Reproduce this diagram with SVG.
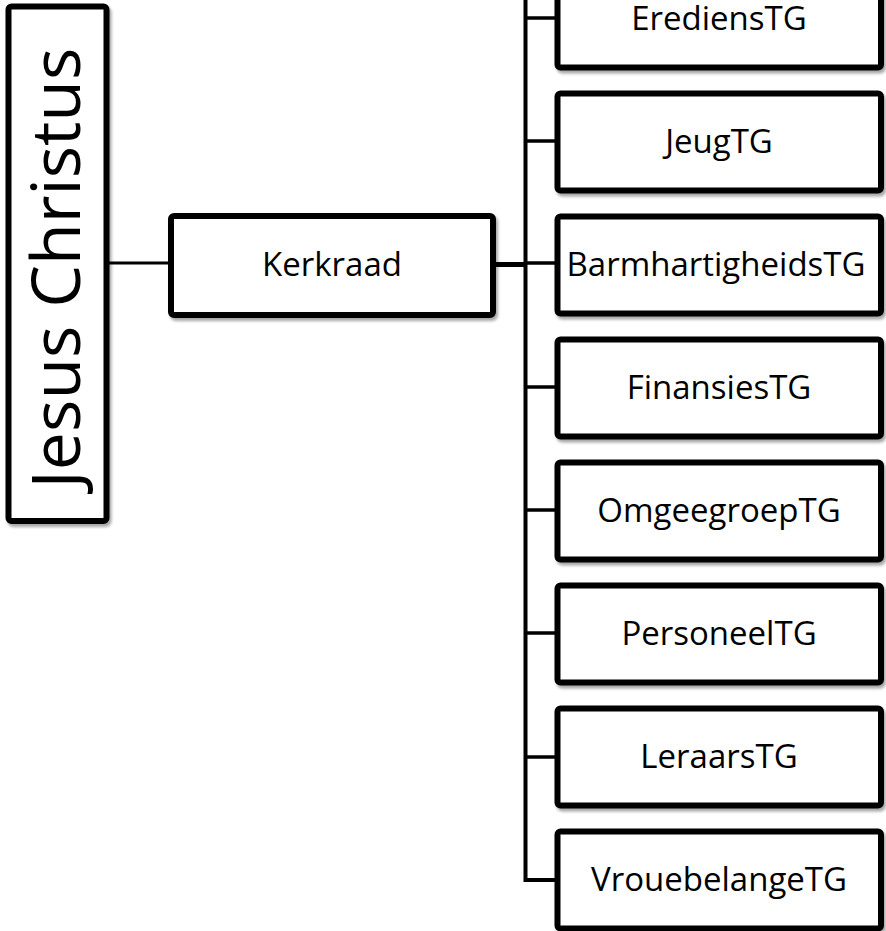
<svg xmlns="http://www.w3.org/2000/svg" width="886" height="931" viewBox="0 0 886 931">
<defs>
<filter id="sh" x="-10%" y="-10%" width="130%" height="130%">
<feDropShadow dx="2" dy="3" stdDeviation="1.5" flood-color="#000" flood-opacity="0.35"/>
</filter>
</defs>
<style>
.box{fill:#fff;stroke:#000;stroke-width:6;filter:url(#sh)}
.lbl{font-family:"Open Sans","Liberation Sans",sans-serif;font-size:33px;fill:#000;text-anchor:middle}
.con{stroke:#000;fill:none;stroke-linecap:butt}
</style>
<rect width="886" height="931" fill="#fff"/>
<g id="connectors">
<line class="con" x1="106" y1="263" x2="171" y2="263" stroke-width="3"/>
<line class="con" x1="493" y1="264.5" x2="525.5" y2="264.5" stroke-width="5"/>
<path class="con" d="M525.5,-5 V880 H557" stroke-width="4"/>
<line class="con" x1="525.5" y1="18" x2="557" y2="18" stroke-width="3.5"/>
<line class="con" x1="525.5" y1="141" x2="557" y2="141" stroke-width="3.5"/>
<line class="con" x1="525.5" y1="263" x2="557" y2="263" stroke-width="3.5"/>
<line class="con" x1="525.5" y1="387" x2="557" y2="387" stroke-width="3.5"/>
<line class="con" x1="525.5" y1="510" x2="557" y2="510" stroke-width="3.5"/>
<line class="con" x1="525.5" y1="633" x2="557" y2="633" stroke-width="3.5"/>
<line class="con" x1="525.5" y1="757" x2="557" y2="757" stroke-width="3.5"/>
</g>
<g id="jesus">
<rect class="box" x="8.5" y="6.5" width="98" height="514.5" rx="3"/>
<text class="lbl" style="font-size:68px" transform="translate(80,268) rotate(-90)">Jesus Christus</text>
</g>
<g id="kerkraad">
<rect class="box" x="171" y="216" width="322" height="99" rx="3"/>
<text class="lbl" x="332" y="276">Kerkraad</text>
</g>
<g id="erediens">
<rect class="box" x="557.5" y="-29.5" width="323.5" height="97" rx="3"/>
<text class="lbl" x="719" y="30">ErediensTG</text>
</g>
<g id="jeug">
<rect class="box" x="557.5" y="93.5" width="323.5" height="97" rx="3"/>
<text class="lbl" x="719" y="153">JeugTG</text>
</g>
<g id="barmhartigheids">
<rect class="box" x="557.5" y="216.5" width="323.5" height="97" rx="3"/>
<text class="lbl" x="716" y="276">BarmhartigheidsTG</text>
</g>
<g id="finansies">
<rect class="box" x="557.5" y="339.5" width="323.5" height="97" rx="3"/>
<text class="lbl" x="719" y="399">FinansiesTG</text>
</g>
<g id="omgeegroep">
<rect class="box" x="557.5" y="462.5" width="323.5" height="97" rx="3"/>
<text class="lbl" x="719" y="522">OmgeegroepTG</text>
</g>
<g id="personeel">
<rect class="box" x="557.5" y="585.5" width="323.5" height="97" rx="3"/>
<text class="lbl" x="719" y="645">PersoneelTG</text>
</g>
<g id="leraars">
<rect class="box" x="557.5" y="708.5" width="323.5" height="97" rx="3"/>
<text class="lbl" x="719" y="768">LeraarsTG</text>
</g>
<g id="vrouebelange">
<rect class="box" x="557.5" y="831.5" width="323.5" height="97" rx="3"/>
<text class="lbl" x="719" y="891">VrouebelangeTG</text>
</g>
</svg>
